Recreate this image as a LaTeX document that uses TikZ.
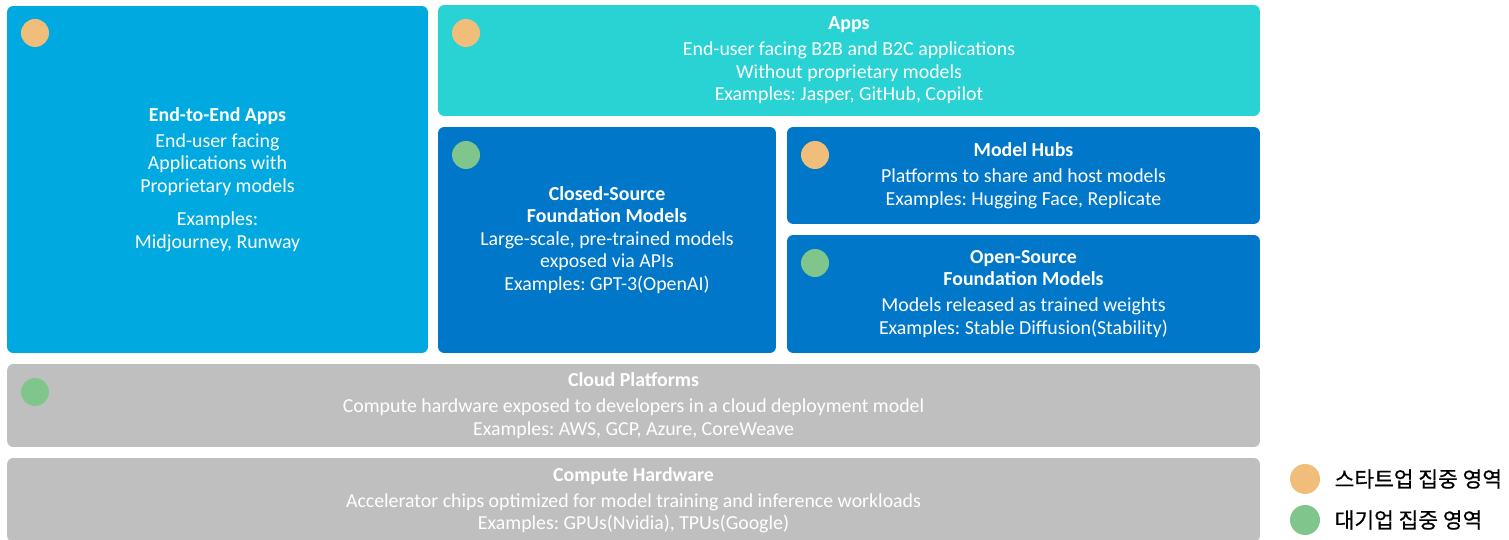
\documentclass[tikz,border=0pt]{standalone}
\usepackage{fontspec}
\setmainfont{Carlito}
\newfontfamily\kofont[FakeBold=0.6]{Noto Sans CJK KR}
\usetikzlibrary{positioning}
\frenchspacing
\definecolor{e2eblue}{RGB}{0,170,224}
\definecolor{appteal}{RGB}{41,211,211}
\definecolor{modelblue}{RGB}{0,119,200}
\definecolor{infragray}{RGB}{191,191,191}
\definecolor{startup}{RGB}{240,190,122}
\definecolor{bigcorp}{RGB}{128,198,140}
\tikzset{
    layer/.style={rounded corners=3.5pt, inner sep=0pt, align=center, text=white,
        font=\fontsize{11.3}{12.8}\selectfont},
    dot/.style={circle, inner sep=0pt, minimum size=0.56cm},
    keydot/.style={circle, inner sep=0pt, minimum size=0.6cm},
    keytext/.style={font=\kofont\fontsize{12.2}{14}\selectfont, text=black, anchor=west, inner sep=0pt}
}
\newcommand{\LayerTitle}[1]{\textbf{#1}}

\begin{document}
\begin{tikzpicture}[x=0.02cm, y=-0.02cm]
    \useasboundingbox (0,0) rectangle (1509,540);

    % model / application layers
    \node[layer, fill=e2eblue, minimum width=8.42cm, minimum height=6.94cm] (e2e) at (217.5,179.5)
        {\LayerTitle{End-to-End Apps}\\[2pt] End-user facing\\ Applications with\\ Proprietary models\\[6.3pt] Examples:\\ Midjourney, Runway};
    \node[layer, fill=appteal, minimum width=16.44cm, minimum height=2.22cm] (apps) at (849,60.5)
        {\LayerTitle{Apps}\\[2pt] End-user facing B2B and B2C applications\\ Without proprietary models\\ Examples: Jasper, GitHub, Copilot};
    \node[layer, fill=modelblue, minimum width=6.76cm, minimum height=4.52cm] (closed) at (607,240)
        {\LayerTitle{Closed-Source}\\ \LayerTitle{Foundation Models}\\ Large-scale, pre-trained models\\ exposed via APIs\\ Examples: GPT-3(OpenAI)};
    \node[layer, fill=modelblue, minimum width=9.46cm, minimum height=1.94cm] (hubs) at (1023.5,175.5)
        {\LayerTitle{Model Hubs}\\[2pt] Platforms to share and host models\\ Examples: Hugging Face, Replicate};
    \node[layer, fill=modelblue, minimum width=9.46cm, minimum height=2.36cm] (open) at (1023.5,294)
        {\LayerTitle{Open-Source}\\ \LayerTitle{Foundation Models}\\[2pt] Models released as trained weights\\ Examples: Stable Diffusion(Stability)};

    % infrastructure layers
    \node[layer, fill=infragray, minimum width=25.06cm, minimum height=1.66cm] (cloud) at (633.5,405.5)
        {\LayerTitle{Cloud Platforms}\\[2pt] Compute hardware exposed to developers in a cloud deployment model\\ Examples: AWS, GCP, Azure, CoreWeave};
    \node[layer, fill=infragray, minimum width=25.06cm, minimum height=1.68cm] (hardware) at (633.5,500)
        {\LayerTitle{Compute Hardware}\\[2pt] Accelerator chips optimized for model training and inference workloads\\ Examples: GPUs(Nvidia), TPUs(Google)};

    % focus markers
    \node[dot, fill=startup] (e2edot) at (35,33) {};
    \node[dot, fill=startup] (appsdot) at (466,33) {};
    \node[dot, fill=bigcorp] (closeddot) at (466,155) {};
    \node[dot, fill=startup] (hubsdot) at (815,155) {};
    \node[dot, fill=bigcorp] (opendot) at (815,263) {};
    \node[dot, fill=bigcorp] (clouddot) at (35,392) {};

    % legend
    \node[keydot, fill=startup] (keystart) at (1305,479) {};
    \node[keydot, fill=bigcorp] (keycorp) at (1305,520) {};
    \node[keytext, right=0.28cm of keystart] (keystarttext) {스타트업 집중 영역};
    \node[keytext, right=0.28cm of keycorp] (keycorptext) {대기업 집중 영역};

\end{tikzpicture}
\end{document}
